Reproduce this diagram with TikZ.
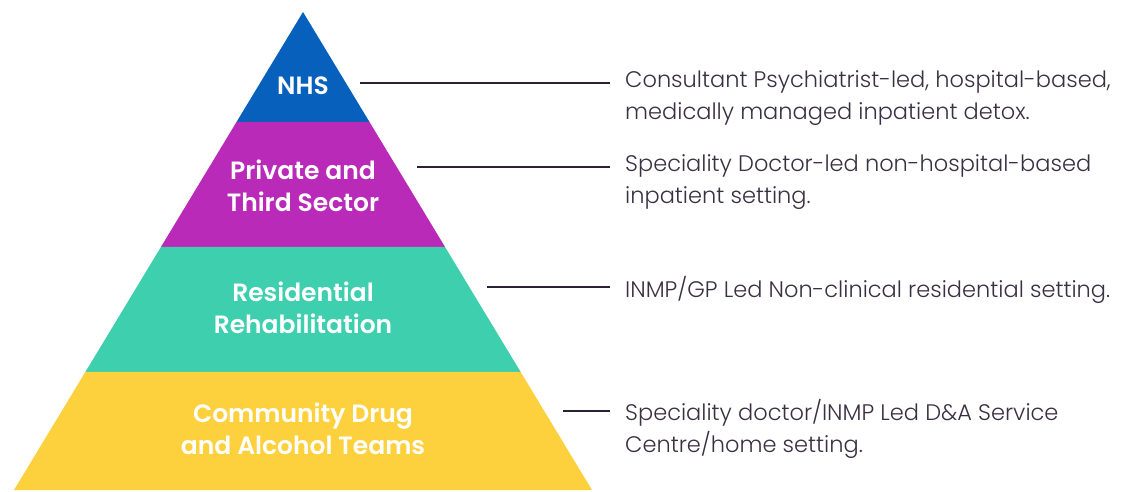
\documentclass[tikz,border=0pt]{standalone}
\usepackage{fontspec}
\setmainfont{Poppins}
\newfontfamily\tierfont{Poppins SemiBold}
\newfontfamily\notefont{Poppins Light}
\usetikzlibrary{positioning, calc}
\definecolor{TierBlue}{RGB}{6,96,188}
\definecolor{TierMagenta}{RGB}{185,42,184}
\definecolor{TierTeal}{RGB}{62,207,174}
\definecolor{TierYellow}{RGB}{253,209,62}
\definecolor{InkDark}{RGB}{45,34,53}
\definecolor{InkText}{RGB}{59,48,66}

\begin{document}
\begin{tikzpicture}[x=1pt,y=-1pt,
        tier/.style={text=white,align=center,font=\tierfont\fontsize{25}{32}\selectfont,inner sep=0pt},
        note/.style={text=InkText,align=left,anchor=north west,font=\notefont\fontsize{22.5}{32.5}\selectfont,inner sep=0pt},
        lead/.style={InkDark,line width=2pt}
      ]
        \useasboundingbox (0,0) rectangle (1123,491);
        % outline of the pyramid
        \coordinate (apex) at (303,12);
        \coordinate (bl) at (14,490);
        \coordinate (br) at (592,490);
        \coordinate (l1) at ($(apex)!0.2301!(bl)$);
        \coordinate (r1) at ($(apex)!0.2301!(br)$);
        \coordinate (l2) at ($(apex)!0.4916!(bl)$);
        \coordinate (r2) at ($(apex)!0.4916!(br)$);
        \coordinate (l3) at ($(apex)!0.7531!(bl)$);
        \coordinate (r3) at ($(apex)!0.7531!(br)$);
        \fill[TierBlue] (apex) -- (r1) -- (l1) -- cycle;
        \fill[TierMagenta] (l1) -- (r1) -- (r2) -- (l2) -- cycle;
        \fill[TierTeal] (l2) -- (r2) -- (r3) -- (l3) -- cycle;
        \fill[TierYellow] (l3) -- (r3) -- (br) -- (bl) -- cycle;
        % tier names
        \node[tier] (nhs) at (303,86) {NHS};
        \node[tier] (private) at (303,186) {Private and\\Third Sector};
        \node[tier] (resi) at (303,308) {Residential\\Rehabilitation};
        \node[tier] (comm) at (303,429) {Community Drug\\and Alcohol Teams};
        % descriptions
        \node[note] (dnhs) at (625,70) {Consultant Psychiatrist-led, hospital-based,\\medically managed inpatient detox.};
        \node[note] (dprivate) at (625,154) {Speciality Doctor-led non-hospital-based\\inpatient setting.};
        \node[note] (dresi) at (625,276) {INMP/GP Led Non-clinical residential setting.};
        \node[note] (dcomm) at (625,399) {Speciality doctor/INMP Led D\&A Service\\Centre/home setting.};
        % leader lines
        \coordinate (cnhs) at (360,83);
        \coordinate (cprivate) at (417,167);
        \coordinate (cresi) at (487,287);
        \coordinate (ccomm) at (563,411);
        \draw[lead] (cnhs) -- ([xshift=-15pt]cnhs -| dnhs.west);
        \draw[lead] (cprivate) -- ([xshift=-15pt]cprivate -| dprivate.west);
        \draw[lead] (cresi) -- ([xshift=-15pt]cresi -| dresi.west);
        \draw[lead] (ccomm) -- ([xshift=-15pt]ccomm -| dcomm.west);
      \end{tikzpicture}
\end{document}
